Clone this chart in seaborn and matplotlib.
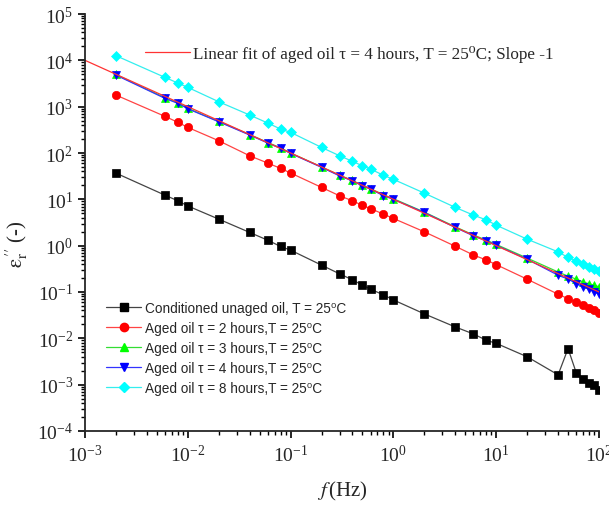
import matplotlib
matplotlib.use("Agg")
import matplotlib.pyplot as plt
import seaborn as sns
import numpy as np
import pandas as pd
from matplotlib.lines import Line2D
from matplotlib.ticker import LogLocator, NullFormatter

# ---------------- data ----------------
freq = [0.002, 0.006, 0.008, 0.01, 0.02, 0.04, 0.06, 0.08, 0.1, 0.2, 0.3, 0.4,
        0.5, 0.6, 0.8, 1, 2, 4, 6, 8, 10, 20, 40, 50, 60, 70, 80, 90, 100]

unaged = [36.8, 12.3, 9.3, 7.2, 3.74, 1.93, 1.31, 0.96, 0.80, 0.38, 0.246, 0.183,
          0.140, 0.115, 0.0867, 0.0675, 0.0337, 0.0176, 0.01245, 0.0091, 0.0078,
          0.0040, 0.00163, 0.0060, 0.00182, 0.00131, 0.00107, 0.00097, 0.00077]

aged2 = [1780, 617, 460, 357, 184, 87, 60.6, 46.5, 37, 18.1, 11.9, 9.3,
         7.4, 6.3, 4.8, 3.87, 1.99, 0.97, 0.63, 0.49, 0.39,
         0.189, 0.0896, 0.072, 0.060, 0.052, 0.046, 0.041, 0.036]

aged3 = [4950, 1550, 1200, 920, 480, 250, 168, 129, 100, 50, 33, 25.5,
         20, 17, 12.5, 10.3, 5.3, 2.55, 1.70, 1.32, 1.06,
         0.54, 0.27, 0.22, 0.19, 0.165, 0.15, 0.14, 0.13]

aged4 = [4800, 1510, 1180, 900, 472, 244, 164, 126, 98, 49, 32, 25,
         19.5, 16.6, 12, 10, 5.2, 2.47, 1.63, 1.27, 1.02,
         0.51, 0.23, 0.19, 0.152, 0.129, 0.115, 0.10, 0.09]

aged8 = [12600, 4280, 3240, 2610, 1277, 660, 443, 328, 279, 132, 87, 66,
         53, 45, 33, 27, 13.6, 6.7, 4.56, 3.6, 2.77,
         1.38, 0.735, 0.556, 0.47, 0.40, 0.355, 0.32, 0.286]

fit_freq = [1e-3, 1e2]
fit_vals = [1e4, 1e-1]

labels = ["Conditioned unaged oil, T = 25⁰C",
          "Aged oil τ = 2 hours,T = 25⁰C",
          "Aged oil τ = 3 hours,T = 25⁰C",
          "Aged oil τ = 4 hours,T = 25⁰C",
          "Aged oil τ = 8 hours,T = 25⁰C"]
fit_label = "Linear fit of aged oil τ = 4 hours, T = 25⁰C; Slope -1"

# ---------------- style ----------------
sns.set_style("ticks")
plt.rcParams['font.family'] = ['Liberation Serif', 'DejaVu Serif']
plt.rcParams['mathtext.fontset'] = 'stix'

fig = plt.figure(figsize=(6.09, 5.10), dpi=100)
ax = fig.add_axes([85/609, (510-432)/510, (599-85)/609, (432-15)/510])

series = [unaged, aged2, aged3, aged4, aged8]
colors = ["black", "#ff0000", "#00ff00", "#0000ff", "#00ffff"]
line_colors = ["#444444", "#ff4444", "#33dd33", "#3333ff", "#33eeee"]
markers = ["s", "o", "^", "v", "D"]
msizes = [5.4, 6.0, 6.4, 6.4, 5.6]

handles = []
for vals, c, lc, m, ms in zip(series, colors, line_colors, markers, msizes):
    df = pd.DataFrame({"f": freq, "e": vals})
    sns.lineplot(data=df, x="f", y="e", ax=ax, color=lc, linewidth=0.9,
                 marker=m, markersize=ms, markerfacecolor=c, markeredgecolor=c,
                 markeredgewidth=0.5, legend=False)
    handles.append(Line2D([], [], color=lc, linewidth=0.9, marker=m,
                          markersize=ms, markerfacecolor=c, markeredgecolor=c))

fit_df = pd.DataFrame({"f": fit_freq, "e": fit_vals})
sns.lineplot(data=fit_df, x="f", y="e", ax=ax, color="#ff3333", linewidth=0.9,
             legend=False)

ax.set_xscale("log")
ax.set_yscale("log")
ax.set_xlim(1e-3, 1e2)
ax.set_ylim(1e-4, 1e5)

ax.spines['top'].set_visible(False)
ax.spines['right'].set_visible(False)
ax.spines['left'].set_linewidth(1.3)
ax.spines['bottom'].set_linewidth(1.3)

ax.xaxis.set_major_locator(LogLocator(base=10, numticks=10))
ax.yaxis.set_major_locator(LogLocator(base=10, numticks=12))
ax.xaxis.set_minor_locator(LogLocator(base=10, subs=np.arange(2, 10), numticks=12))
ax.yaxis.set_minor_locator(LogLocator(base=10, subs=np.arange(2, 10), numticks=12))
ax.xaxis.set_minor_formatter(NullFormatter())
ax.yaxis.set_minor_formatter(NullFormatter())

ax.tick_params(axis='both', which='major', direction='out', length=5, width=1.2,
               labelsize=14, color='black')
ax.tick_params(axis='both', which='minor', direction='out', length=3, width=1.0,
               color='black')
ax.tick_params(axis='x', which='major', pad=4)

ax.set_xlabel(r"$f\,$(Hz)", fontsize=15, labelpad=10)
ax.set_ylabel(r"$\mathrm{\varepsilon}_\mathrm{r}^{\,\prime\prime}$ (-)", fontsize=15)
ax.yaxis.set_label_coords(-0.107, 0.45)

# legends
fit_handle = Line2D([], [], color="#ff3333", linewidth=0.9)
leg1 = ax.legend([fit_handle], [fit_label], loc='upper left',
                 bbox_to_anchor=(0.086, 0.963), frameon=False,
                 handlelength=2.65, handletextpad=0.2,
                 prop={'family': ['Liberation Serif', 'DejaVu Serif'], 'size': 12.3})
ax.add_artist(leg1)

ax.legend(handles, labels, loc='lower left', bbox_to_anchor=(0.017, 0.058),
          frameon=False, handlelength=2.6, handletextpad=0.3, labelspacing=0.44,
          prop={'family': ['Liberation Sans', 'DejaVu Sans'], 'size': 9.8})

fig.savefig("out.png", dpi=100)
